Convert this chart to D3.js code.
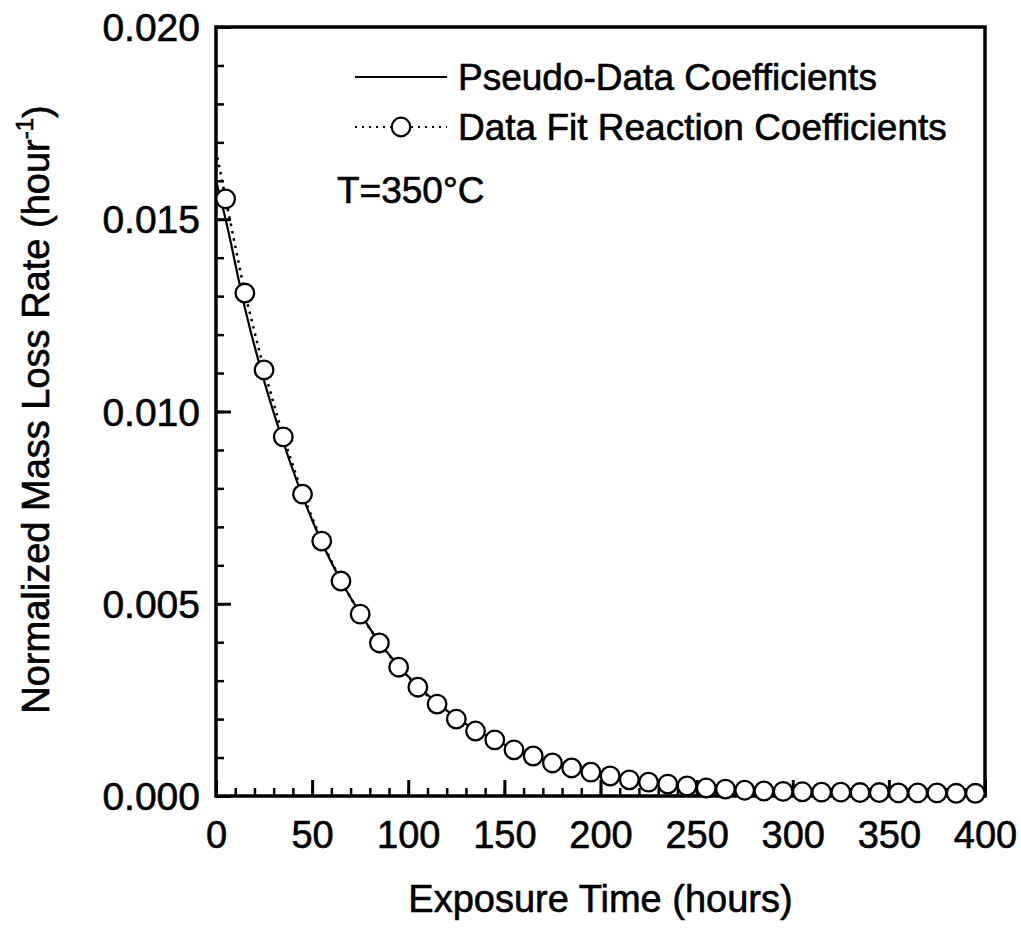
<!DOCTYPE html>
<html>
<head>
<meta charset="utf-8">
<script src="https://cdn.jsdelivr.net/npm/d3@7"></script>
<style>
  html, body { margin: 0; padding: 0; background: #fff; }
  svg { display: block; }
  text { font-family: "Liberation Sans", Arial, Helvetica, sans-serif; fill: #000; stroke: #000; stroke-width: 0.6px; }
</style>
</head>
<body>
<svg id="chart" width="1021" height="933"></svg>
<script>
// ---- Data ----
// Data fit reaction coefficients (circles), times in hours
const fitTimes = [5,15,25,35,45,55,65,75,85,95,105,115,125,135,145,155,165,175,185,195,
                  205,215,225,235,245,255,265,275,285,295,305,315,325,335,345,355,365,375,385,395];
const fitValues = [0.01553,0.01308,0.01108,0.00934,0.00785,0.00663,0.00559,0.00473,0.00398,0.00335,
                   0.00283,0.00239,0.00200,0.00169,0.00146,0.00120,0.00104,0.00086,0.00073,0.00062,
                   0.00052,0.00042,0.00036,0.00031,0.00026,0.00021,0.00018,0.00015,0.00013,0.00012,
                   0.00011,0.00010,0.00010,0.00009,0.00009,0.00008,0.00008,0.00008,0.00007,0.00007];
// Dotted fit line starts at t = 0
const fitStartTime = 0;
const fitStartValue = 0.0168;

// Pseudo-data coefficients (solid line)
const pseudoTimes = [0,5,15,25,35,45,55,65,75,85,95,105,115,125,135,145,155,165,175,185,195,
                     205,215,225,235,245,255,265,275,285,295,305,315,325,335,345,355,365,375,385,395];
const pseudoValues = [0.01600,0.01500,0.01270,0.01080,0.00920,0.00780,0.00660,0.00560,0.00475,0.00400,0.00338,
                      0.00286,0.00242,0.00204,0.00172,0.00146,0.00123,0.00104,0.00088,0.00074,0.00063,
                      0.00053,0.00045,0.00038,0.00032,0.00027,0.00023,0.00019,0.00016,0.00014,0.00012,
                      0.00010,0.00009,0.00008,0.00007,0.00006,0.00005,0.00005,0.00004,0.00004,0.00003];

const xTickValues = [0,50,100,150,200,250,300,350,400];
const yTickValues = [0.000,0.005,0.010,0.015,0.020];
const legendLabels = ["Pseudo-Data Coefficients", "Data Fit Reaction Coefficients"];
const annotation = "T=350°C";
const xTitle = "Exposure Time (hours)";

// ---- Layout ----
const svg = d3.select("#chart");
const L = 216, R = 985, T = 27, B = 796;

const x = d3.scaleLinear().domain([0, 400]).range([L, R]);
const y = d3.scaleLinear().domain([0, 0.020]).range([B, T]);

// frame
svg.append("rect")
  .attr("x", L).attr("y", T).attr("width", R - L).attr("height", B - T)
  .attr("fill", "none").attr("stroke", "#000").attr("stroke-width", 3.5);

// x axis: inward ticks
const xMinor = d3.range(0, 401, 10);
const gx = svg.append("g").attr("transform", `translate(0,${B})`);
gx.call(d3.axisBottom(x).tickValues(xMinor).tickSize(-8).tickFormat(""))
  .call(g => g.select(".domain").remove())
  .call(g => g.selectAll("line").attr("stroke-width", 2.5));
const gxM = svg.append("g").attr("transform", `translate(0,${B})`);
gxM.call(d3.axisBottom(x).tickValues(xTickValues).tickSize(-16).tickFormat(d3.format("d")))
  .call(g => g.select(".domain").remove())
  .call(g => g.selectAll("line").attr("stroke-width", 3))
  .call(g => g.selectAll("text").attr("font-size", 38).attr("dy", "0.35em").attr("y", 39));

// y axis: inward ticks
const yMinor = d3.range(0, 21, 1).map(d => d / 1000);
const gy = svg.append("g").attr("transform", `translate(${L},0)`);
gy.call(d3.axisLeft(y).tickValues(yMinor).tickSize(-8).tickFormat(""))
  .call(g => g.select(".domain").remove())
  .call(g => g.selectAll("line").attr("stroke-width", 2.5));
const gyM = svg.append("g").attr("transform", `translate(${L},0)`);
gyM.call(d3.axisLeft(y).tickValues(yTickValues).tickSize(-15).tickFormat(d3.format(".3f")))
  .call(g => g.select(".domain").remove())
  .call(g => g.selectAll("line").attr("stroke-width", 3))
  .call(g => g.selectAll("text").attr("font-size", 39).attr("x", -16).attr("dy", "0.35em"));

// ---- Lines ----
const pseudoPts = pseudoTimes.map((t, i) => [t, pseudoValues[i]]);
const fitPts = [[fitStartTime, fitStartValue]].concat(fitTimes.map((t, i) => [t, fitValues[i]]));

svg.append("path").datum(pseudoPts)
  .attr("d", d3.line().x(d => x(d[0])).y(d => y(d[1])).curve(d3.curveMonotoneX))
  .attr("fill", "none").attr("stroke", "#000").attr("stroke-width", 2.2);
svg.append("path").datum(fitPts)
  .attr("d", d3.line().x(d => x(d[0])).y(d => y(d[1])))
  .attr("fill", "none").attr("stroke", "#000").attr("stroke-width", 2.5)
  .attr("stroke-dasharray", "2.5,5");

svg.append("g").selectAll("circle")
  .data(fitTimes.map((t, i) => [t, fitValues[i]]))
  .join("circle")
  .attr("cx", d => x(d[0])).attr("cy", d => y(d[1])).attr("r", 9.3)
  .attr("fill", "#fff").attr("stroke", "#000").attr("stroke-width", 2.3);

// ---- Legend ----
const lg = svg.append("g");
lg.append("line").attr("x1", 355).attr("x2", 447).attr("y1", 77).attr("y2", 77)
  .attr("stroke", "#000").attr("stroke-width", 2);
lg.append("text").attr("x", 458).attr("y", 77).attr("dy", "0.35em")
  .attr("font-size", 37).text(legendLabels[0]);
lg.append("line").attr("x1", 355).attr("x2", 447).attr("y1", 127).attr("y2", 127)
  .attr("stroke", "#000").attr("stroke-width", 2).attr("stroke-dasharray", "2,5");
lg.append("circle").attr("cx", 401).attr("cy", 127).attr("r", 9.3)
  .attr("fill", "#fff").attr("stroke", "#000").attr("stroke-width", 2.2);
lg.append("text").attr("x", 458).attr("y", 127).attr("dy", "0.35em")
  .attr("font-size", 37).text(legendLabels[1]);

svg.append("text").attr("x", 337).attr("y", 190).attr("dy", "0.35em")
  .attr("font-size", 37).text(annotation);

// ---- Axis titles ----
svg.append("text").attr("x", (L + R) / 2 + 0).attr("y", 899).attr("dy", "0.35em")
  .attr("text-anchor", "middle").attr("font-size", 38).text(xTitle);

const yt = svg.append("text")
  .attr("transform", `translate(36,${(T + B) / 2 - 2}) rotate(-90)`)
  .attr("text-anchor", "middle").attr("dy", "0.35em").attr("font-size", 38);
yt.append("tspan").text("Normalized Mass Loss Rate (hour");
yt.append("tspan").attr("font-size", 24).attr("dy", "-0.7em").text("-1");
yt.append("tspan").attr("dy", "0.45em").text(")");
</script>
</body>
</html>
